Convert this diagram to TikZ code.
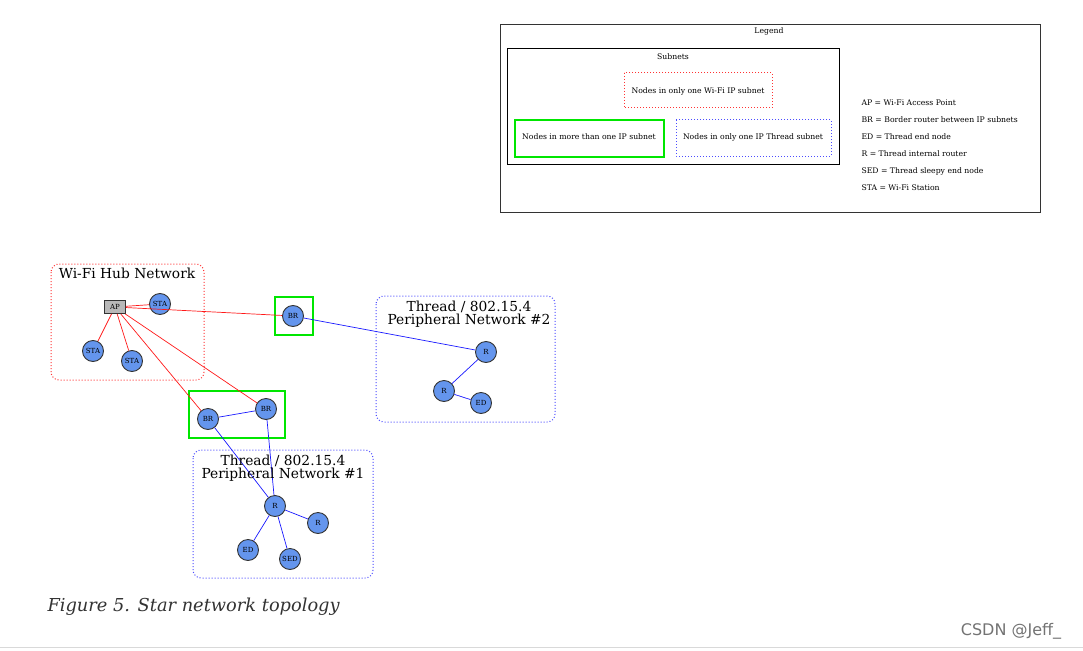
\documentclass[tikz,border=0pt]{standalone}
\usepackage{fontspec}
\setmainfont{DejaVu Serif}
\newfontfamily\sansf{DejaVu Sans}
\begin{document}
\begin{tikzpicture}[x=1pt,y=-1pt,
 nd/.style={circle,draw=black!80,line width=0.9pt,fill={rgb,255:red,100;green,149;blue,237},minimum size=21pt,inner sep=0pt,font=\fontsize{7}{8}\selectfont},
 rl/.style={red!90,line width=0.7pt},
 bl/.style={blue!90,line width=0.7pt},
 rcl/.style={draw=red!80,dotted,line width=1pt,rounded corners=8pt},
 bcl/.style={draw=blue!70,dotted,line width=1pt,rounded corners=8pt},
 gbox/.style={draw={rgb,255:red,0;green,230;blue,0},line width=1.5pt},
 ttl/.style={font=\fontsize{13.8}{14}\selectfont,align=center},
 sm/.style={font=\fontsize{7.7}{9}\selectfont}]
\useasboundingbox (0,0) rectangle (1083,650);
\fill[white] (0,0) rectangle (1083,650);
% legend
\draw[black!80,line width=0.8pt] (500,24) rectangle (1040,212);
\node[sm] (lg) at (769,31) {Legend};
\draw[black,line width=0.8pt] (507,48) rectangle (839,164);
\node[sm] (sn) at (673,57) {Subnets};
\draw[draw=red!80,dotted,line width=1pt] (624,73) rectangle (772,108);
\node[sm] (l1) at (698,91) {Nodes in only one Wi-Fi IP subnet};
\draw[gbox] (515,120) rectangle (664,157);
\node[sm] (l2) at (589,137) {Nodes in more than one IP subnet};
\draw[draw=blue!70,dotted,line width=1pt] (676,120) rectangle (831,156);
\node[sm] (l3) at (753,137) {Nodes in only one IP Thread subnet};
\foreach \t [count=\i] in {AP = Wi-Fi Access Point,BR = Border router between IP subnets,ED = Thread end node,R = Thread internal router,SED = Thread sleepy end node,STA = Wi-Fi Station}
  \node[sm,anchor=west] (k\i) at (858,86+17*\i) {\t};
% clusters
\draw[rcl] (51,264) rectangle (204,380);
\node[ttl] (t0) at (127,273) {Wi-Fi Hub Network};
\draw[bcl] (376,296) rectangle (555,422);
\node[ttl] (t2) at (469,314) {Thread / 802.15.4\\[-1.5pt]Peripheral Network \#2};
\draw[bcl] (193,450) rectangle (373,578);
\draw[gbox] (275,297) rectangle (313,335);
\draw[gbox] (189,391) rectangle (285,438);
% nodes
\node[draw=black!80,line width=0.9pt,fill=black!28,minimum width=21pt,minimum height=13pt,inner sep=0pt,font=\fontsize{7}{8}\selectfont] (ap) at (115,307) {AP};
\node[nd] (s1) at (160,304) {STA};
\node[nd] (s2) at (93,351) {STA};
\node[nd] (s3) at (132,361) {STA};
\node[nd] (b1) at (293,316) {BR};
\node[nd] (r21) at (486,352) {R};
\node[nd] (r22) at (444,391) {R};
\node[nd] (e2) at (481,403) {ED};
\node[nd] (b2) at (208,419) {BR};
\node[nd] (b3) at (266,409) {BR};
\node[nd] (r11) at (275,506) {R};
\node[nd] (r12) at (318,523) {R};
\node[nd] (e1) at (248,550) {ED};
\node[nd] (sed) at (290,559) {SED};
% edges
\draw[rl] (ap) -- (s1); \draw[rl] (ap) -- (b1);
\draw[rl] (ap) -- (s2); \draw[rl] (ap) -- (s3);
\draw[rl] (ap) -- (b2); \draw[rl] (ap) -- (b3);
\draw[bl] (b1) -- (r21); \draw[bl] (r21) -- (r22); \draw[bl] (r22) -- (e2);
\draw[bl] (b2) -- (b3); \draw[bl] (b2) -- (r11); \draw[bl] (b3) -- (r11);
\draw[bl] (r11) -- (r12); \draw[bl] (r11) -- (e1); \draw[bl] (r11) -- (sed);
\node[ttl] (t1) at (283,468) {Thread / 802.15.4\\[-1.5pt]Peripheral Network \#1};
% caption
\node[anchor=west,font=\fontsize{17.8}{18}\selectfont\itshape,text=black!80] (cap) at (44,607) {Figure 5. Star network topology};
\node[font=\sansf\fontsize{16}{16}\selectfont,text=black!55] (wm) at (1011,631) {CSDN @Jeff\_};
\draw[black!15,line width=1pt] (0,647) -- (1083,647);
\end{tikzpicture}
\end{document}
